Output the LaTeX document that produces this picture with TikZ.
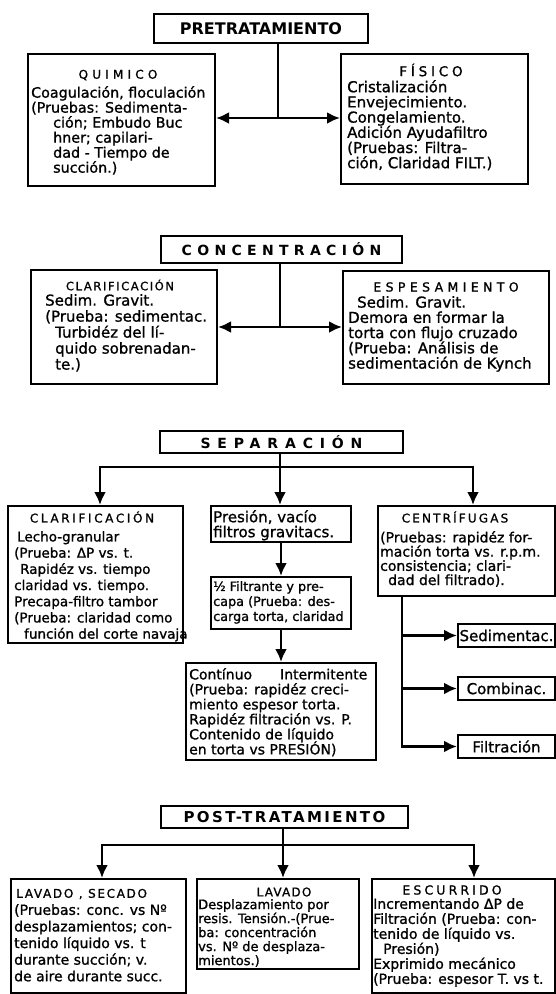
\documentclass[tikz,border=0pt]{standalone}
\usepackage{fontspec}
\setmainfont{DejaVu Sans}
\newfontfamily\marker{DejaVu Sans}[FakeBold=1.1]
\usetikzlibrary{arrows.meta}
% marker-like font with a fixed baseline spacing
\newcommand\fsz[2]{\marker\fontsize{#1}{#2}\selectfont\lineskiplimit=-20pt\relax}
\newcommand\spc[2]{{\addfontfeature{LetterSpace=#1}#2}}
\begin{document}
\begin{tikzpicture}[x=1pt,y=-1pt,
  box/.style={draw, line width=2pt, inner sep=0pt, anchor=north west},
  head/.style={box, font=\bfseries\fontsize{14}{16}\selectfont},
  ttl/.style={inner sep=0pt, font=\fsz{12}{14}},
  body/.style={anchor=north west, inner sep=0pt, align=left},
  conn/.style={line width=2.6pt},
  arr/.style={conn, -{Latex[length=13pt,width=12pt]}}]

\fill[white] (0,0) rectangle (556,994);
\useasboundingbox (0,0) rectangle (556,994);

% ---------------- PRETRATAMIENTO ----------------
\node[head, minimum width=214pt, minimum height=29pt, font=\bfseries\fontsize{16}{18}\selectfont] (pre) at (153,13) {PRETRATAMIENTO};

\node[box, minimum width=187pt, minimum height=132pt] (quim) at (27,53) {};
\node[ttl] (quimH) at (118,75) {\spc{35}{QUIMICO}};
\node[body, font=\fsz{14.3}{15}] (quimB) at (31,86)
  {Coagulación, floculación\\
   (Pruebas: Sedimenta-\\
   \hspace*{22pt}ción; Embudo Buc\\
   \hspace*{22pt}hner; capilari-\\
   \hspace*{22pt}dad - Tiempo de\\
   \hspace*{22pt}succión.)};

\node[box, minimum width=187pt, minimum height=130pt] (fis) at (340,53) {};
\node[ttl, font=\fsz{13.5}{15}] (fisH) at (431,70) {\spc{28}{FÍSICO}};
\node[body, font=\fsz{15}{15.2}] (fisB) at (347,80)
  {Cristalización\\
   Envejecimiento.\\
   Congelamiento.\\
   Adición Ayudafiltro\\
   (Pruebas: Filtra-\\
   ción, Claridad FILT.)};

\coordinate (j1) at (278,118);
\draw[conn] (pre.south -| j1) -- (j1);
\draw[arr] (j1) -- (j1 -| quim.east);
\draw[arr] (j1) -- (j1 -| fis.west);

% ---------------- CONCENTRACION ----------------
\node[head, minimum width=241pt, minimum height=27pt] (con) at (160,235) {\spc{38}{CONCENTRACIÓN}};

\node[box, minimum width=186pt, minimum height=114pt] (clar) at (30,269) {};
\node[ttl, font=\fsz{11.5}{13}] (clarH) at (120,285) {\spc{14}{CLARIFICACIÓN}};
\node[body, font=\fsz{15}{16}] (clarB) at (45,294)
  {Sedim. Gravit.\\
   (Prueba: sedimentac.\\
   \hspace*{10pt}Turbidéz del lí-\\
   \hspace*{10pt}quido sobrenadan-\\
   \hspace*{10pt}te.)};

\node[box, minimum width=206pt, minimum height=113pt] (esp) at (342,270) {};
\node[ttl, font=\fsz{12.5}{14}] (espH) at (446,287) {\spc{35}{ESPESAMIENTO}};
\node[body, font=\fsz{15}{15.25}] (espB) at (348,296)
  {\hspace*{9pt}Sedim. Gravit.\\
   Demora en formar la\\
   torta con flujo cruzado\\
   (Prueba: Análisis de\\
   sedimentación de Kynch};

\coordinate (j2) at (280,327);
\draw[conn] (con.south -| j2) -- (j2);
\draw[arr] (j2) -- (j2 -| clar.east);
\draw[arr] (j2) -- (j2 -| esp.west);

% ---------------- SEPARACION ----------------
\node[head, minimum width=243pt, minimum height=22pt] (sep) at (159,430) {\spc{49}{SEPARACIÓN}};

\node[box, minimum width=175pt, minimum height=137pt] (clar2) at (7,505) {};
\node[ttl] (clar2H) at (92,517) {\spc{22}{CLARIFICACIÓN}};
\node[body, font=\fsz{13.5}{16.2}] (clar2B) at (14,531)
  {\hspace*{3pt}Lecho-granular\\
   (Prueba: ΔP vs. t.\\
   \hspace*{6pt}Rapidéz vs. tiempo\\
   claridad vs. tiempo.\\
   Precapa-filtro tambor\\
   (Prueba: claridad como\\
   \hspace*{10pt}función del corte navaja};

\node[box, minimum width=140pt, minimum height=36pt] (pres) at (210,505) {};
\node[body, font=\fsz{15}{15}] (presB) at (213,510)
  {Presión, vacío\\filtros gravitacs.};

\node[box, minimum width=140pt, minimum height=52pt] (med) at (210,576) {};
\node[body, font=\fsz{12.8}{15}] (medB) at (213,581)
  {½ Filtrante y pre-\\capa (Prueba: des-\\carga torta, claridad};

\node[box, minimum width=190pt, minimum height=97pt] (cont) at (185,662) {};
\node[body, font=\fsz{14}{15}] (contB) at (189,668)
  {Contínuo\hspace{28pt}Intermitente\\
   (Prueba: rapidéz creci-\\
   miento espesor torta.\\
   Rapidéz filtración vs. P.\\
   Contenido de líquido\\
   en torta vs PRESIÓN)};

\node[box, minimum width=177pt, minimum height=90pt] (cent) at (377,505) {};
\node[ttl] (centH) at (455,517) {\spc{18}{CENTRÍFUGAS}};
\node[body, font=\fsz{14}{14.2}] (centB) at (380,531)
  {(Pruebas: rapidéz for-\\
   mación torta vs. r.p.m.\\
   consistencia; clari-\\
   \hspace*{8pt}dad del filtrado).};

\node[box, minimum width=97pt, minimum height=23pt, font=\fsz{15}{16}] (sed) at (457,623) {Sedimentac.};
\node[box, minimum width=97pt, minimum height=23pt, font=\fsz{15}{16}] (comb) at (457,676) {Combinac.};
\node[box, minimum width=97pt, minimum height=23pt, font=\fsz{15}{16}] (filt) at (457,734) {Filtración};

\coordinate (sepL) at (100,467);
\coordinate (sepM) at (280,467);
\coordinate (sepR) at (473,467);
\draw[conn] (sep.south -| sepM) -- (sepM);
\draw[arr] (sepM) -| (sepL |- clar2.north);
\draw[arr] (sepM) -| (sepR |- cent.north);
\draw[arr] (sepM) -- (sepM |- pres.north);
\draw[arr] (pres.south) -- (med.north);
\draw[arr] (med.south) -- (cont.north);

\coordinate (cx) at (402,600);
\draw[arr] (cent.south -| cx) |- (filt.west);
\draw[arr] (sed.west -| cx) -- (sed.west);
\draw[arr] (comb.west -| cx) -- (comb.west);

% ---------------- POST-TRATAMIENTO ----------------
\node[head, minimum width=247pt, minimum height=22pt, font=\bfseries\fontsize{15}{17}\selectfont] (post) at (160,805) {\spc{16}{POST-TRATAMIENTO}};

\node[box, minimum width=175pt, minimum height=114pt] (lav1) at (10,878) {};
\node[ttl, anchor=west] (lav1H) at (16,894) {\spc{14}{LAVADO , SECADO}};
\node[body, font=\fsz{14}{16.6}] (lav1B) at (14,904)
  {(Pruebas: conc. vs Nº\\
   desplazamientos; con-\\
   tenido líquido vs. t\\
   durante succión; v.\\
   de aire durante succ.};

\node[box, minimum width=162pt, minimum height=90pt] (lav2) at (196,878) {};
\node[ttl] (lav2H) at (284,892) {\spc{10}{LAVADO}};
\node[body, font=\fsz{13}{14}] (lav2B) at (198,899)
  {Desplazamiento por\\
   resis. Tensión.-(Prue-\\
   ba: concentración\\
   vs. Nº de desplaza-\\
   mientos.)};

\node[box, minimum width=183pt, minimum height=114pt] (esc) at (371,878) {};
\node[ttl, font=\fsz{12.5}{14}] (escH) at (452,890) {\spc{25}{ESCURRIDO}};
\node[body, font=\fsz{14}{15}] (escB) at (373,898)
  {Incrementando ΔP de\\
   Filtración (Prueba: con-\\
   tenido de líquido vs.\\
   \hspace*{10pt}Presión)\\
   Exprimido mecánico\\
   (Prueba: espesor T. vs t.};

\coordinate (pL) at (102,845);
\coordinate (pM) at (283,845);
\coordinate (pR) at (474,845);
\draw[conn] (post.south -| pM) -- (pM);
\draw[arr] (pM) -| (pL |- lav1.north);
\draw[arr] (pM) -| (pR |- esc.north);
\draw[arr] (pM) -- (pM |- lav2.north);
\end{tikzpicture}
\end{document}
